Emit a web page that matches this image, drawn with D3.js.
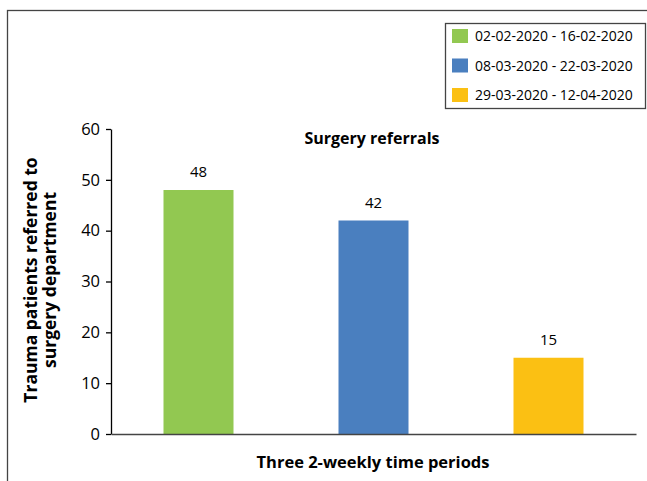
<!DOCTYPE html>
<html>
<head>
<meta charset="utf-8">
<script src="https://cdn.jsdelivr.net/npm/d3@7"></script>
<style>
  body { margin: 0; background: #fff; }
  svg text { font-family: 'Open Sans', sans-serif; fill: #000; }
</style>
</head>
<body>
<div class="chart"></div>
<script>
// chart data
const periods = ['02-02-2020 - 16-02-2020', '08-03-2020 - 22-03-2020', '29-03-2020 - 12-04-2020'];
const referrals = [48, 42, 15];
const barColors = ['#92c851', '#4a7fbf', '#fbc013'];
const yTicks = [0, 10, 20, 30, 40, 50, 60];

const w = 647;
const h = 481;
const margin = { left: 111, right: 11, top: 129, bottom: 47 };

const svg = d3.select('.chart')
  .append('svg')
  .attr('width', w)
  .attr('height', h);

// outer frame (runs off the page on right and bottom)
svg.append('rect')
  .attr('x', 7.5)
  .attr('y', 10.5)
  .attr('width', w)
  .attr('height', h)
  .attr('fill', 'none')
  .attr('stroke', '#444')
  .attr('stroke-width', 1.3);

const xScale = d3.scaleBand()
  .domain(periods)
  .range([margin.left, w - margin.right])
  .paddingInner(0.6)
  .paddingOuter(0.3);

const yScale = d3.scaleLinear()
  .domain([0, 60])
  .range([h - margin.bottom, margin.top]);

// bars
svg.selectAll('rect.bar')
  .data(referrals)
  .enter()
  .append('rect')
  .attr('class', 'bar')
  .attr('x', (d, i) => xScale(periods[i]))
  .attr('y', (d) => yScale(d))
  .attr('width', xScale.bandwidth())
  .attr('height', (d) => yScale(0) - yScale(d))
  .attr('fill', (d, i) => barColors[i]);

// value labels
svg.selectAll('text.value')
  .data(referrals)
  .enter()
  .append('text')
  .attr('class', 'value')
  .attr('x', (d, i) => xScale(periods[i]) + xScale.bandwidth() / 2)
  .attr('y', (d) => yScale(d) - 13)
  .attr('text-anchor', 'middle')
  .style('font-size', '15px')
  .text((d) => d);

// y axis
const yAxis = d3.axisLeft(yScale)
  .tickValues(yTicks)
  .tickSizeInner(5)
  .tickSizeOuter(0)
  .tickPadding(6);

const yAxisG = svg.append('g')
  .attr('transform', `translate(${margin.left},0)`)
  .call(yAxis);
yAxisG.select('.domain').attr('stroke', '#000').attr('stroke-width', 1.3);
yAxisG.selectAll('.tick line').attr('stroke', '#000').attr('stroke-width', 1.3);
yAxisG.selectAll('.tick text')
  .style('font-size', '16.5px')
  .style('font-family', "'Open Sans', sans-serif")
  .attr('fill', '#000');

// x axis line
const xAxis = d3.axisBottom(xScale).tickSize(0).tickFormat('');
const xAxisG = svg.append('g')
  .attr('transform', `translate(0,${h - margin.bottom})`)
  .call(xAxis);
xAxisG.select('.domain').attr('stroke', '#444').attr('stroke-width', 1.3);

// title
svg.append('text')
  .attr('x', 372)
  .attr('y', 144)
  .attr('text-anchor', 'middle')
  .style('font-size', '16px')
  .style('font-weight', 'bold')
  .text('Surgery referrals');

// x axis label
svg.append('text')
  .attr('x', 373)
  .attr('y', 468)
  .attr('text-anchor', 'middle')
  .style('font-size', '16.5px')
  .style('font-weight', 'bold')
  .text('Three 2-weekly time periods');

// y axis label (two lines)
const yLabel = svg.append('text')
  .attr('transform', 'translate(37,280) rotate(-90)')
  .attr('text-anchor', 'middle')
  .style('font-size', '17.5px')
  .style('font-weight', 'bold');
yLabel.append('tspan').attr('x', 0).attr('y', 0).text('Trauma patients referred to');
yLabel.append('tspan').attr('x', 0).attr('y', 19).text('surgery department');

// legend
const legend = svg.append('g').attr('id', 'legend');
legend.append('rect')
  .attr('x', 445.5)
  .attr('y', 23.5)
  .attr('width', 200)
  .attr('height', 85)
  .attr('fill', '#fff')
  .attr('stroke', '#444')
  .attr('stroke-width', 1.3);

const items = legend.selectAll('g.item')
  .data(periods)
  .enter()
  .append('g')
  .attr('class', 'item')
  .attr('transform', (d, i) => `translate(452,${29 + i * 29.5})`);

items.append('rect')
  .attr('width', 16)
  .attr('height', 14)
  .attr('fill', (d, i) => barColors[i]);

items.append('text')
  .attr('x', 23)
  .attr('y', 12)
  .style('font-size', '14px')
  .text((d) => d);
</script>
</body>
</html>
